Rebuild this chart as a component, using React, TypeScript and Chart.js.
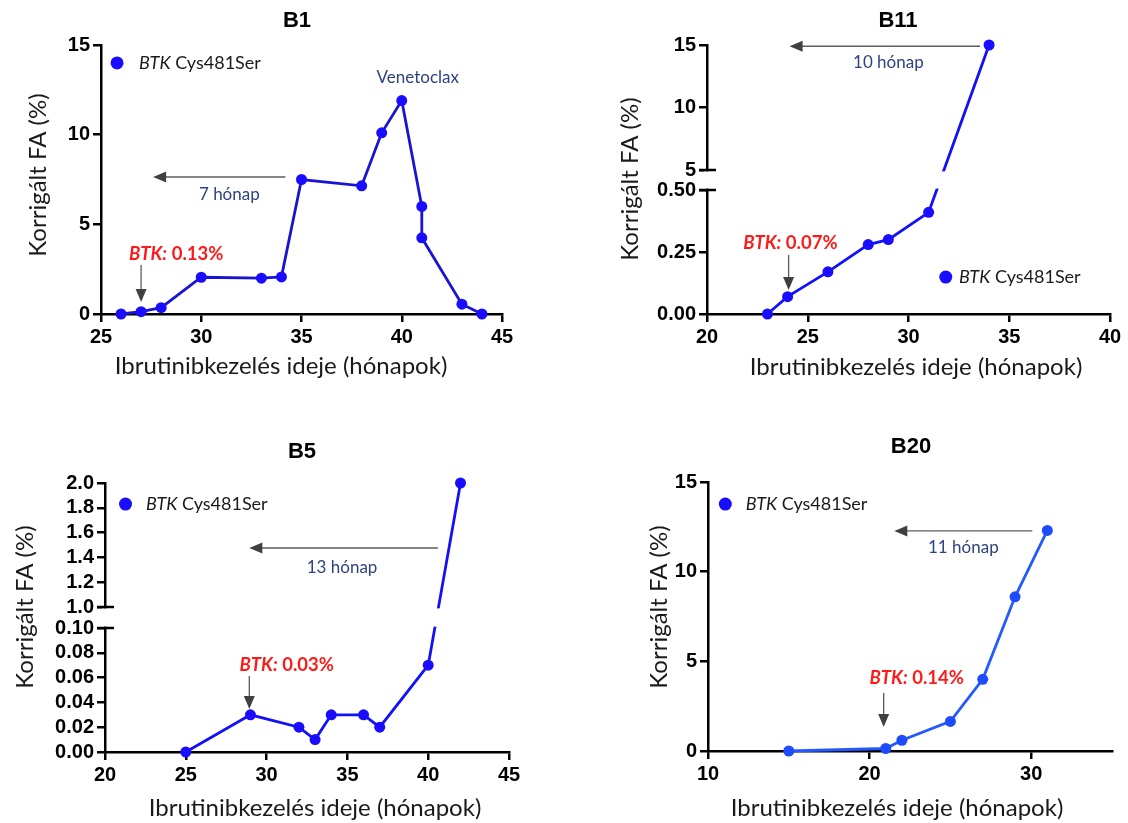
import React, { useEffect, useRef } from "react";
import { Chart, registerables, LinearScale } from "chart.js";

Chart.register(...registerables);

// ---------------- DATA ----------------
const B1_MONTHS = [26, 27, 28, 30, 33, 34, 35, 38, 39, 40, 41, 41, 43, 44];
const B1_FA = [0, 0.13, 0.35, 2.05, 2.0, 2.07, 7.5, 7.15, 10.1, 11.9, 6.0, 4.25, 0.55, 0.0];
const B1_X_TICKS = [25, 30, 35, 40, 45];
const B1_Y_TICKS = [0, 5, 10, 15];
const B1_Y_LABELS = ["0", "5", "10", "15"];

const B11_MONTHS = [23, 24, 26, 28, 29, 31, 34];
const B11_FA = [0, 0.07, 0.17, 0.28, 0.3, 0.41, 15];
const B11_X_TICKS = [20, 25, 30, 35, 40];
const B11_Y_TICKS = [0, 0.25, 0.5, 5, 10, 15];
const B11_Y_LABELS = ["0.00", "0.25", "0.50", "5", "10", "15"];

const B5_MONTHS = [25, 29, 32, 33, 34, 36, 37, 40, 42];
const B5_FA = [0, 0.03, 0.02, 0.01, 0.03, 0.03, 0.02, 0.07, 2.0];
const B5_X_TICKS = [20, 25, 30, 35, 40, 45];
const B5_Y_TICKS = [0, 0.02, 0.04, 0.06, 0.08, 0.1, 1.0, 1.2, 1.4, 1.6, 1.8, 2.0];
const B5_Y_LABELS = ["0.00", "0.02", "0.04", "0.06", "0.08", "0.10", "1.0", "1.2", "1.4", "1.6", "1.8", "2.0"];

const B20_MONTHS = [15, 21, 22, 25, 27, 29, 31];
const B20_FA = [0, 0.14, 0.6, 1.65, 4.0, 8.6, 12.3];
const B20_X_TICKS = [10, 20, 30];
const B20_Y_TICKS = [0, 5, 10, 15];
const B20_Y_LABELS = ["0", "5", "10", "15"];

const X_TITLE = "Ibrutinibkezelés ideje (hónapok)";
const Y_TITLE = "Korrigált FA (%)";
const LEGEND_GENE = "BTK";
const LEGEND_REST = " Cys481Ser";

// ---------------- STYLE ----------------
const TICK_FAMILY = '"Liberation Sans Narrow", "Liberation Sans", Arial, sans-serif';
const TITLE_FONT = 'bold 22px "Liberation Sans", Arial, sans-serif';
const AXIS_TITLE_FONT = '24px Lato, "Open Sans", sans-serif';
const LEGEND_FONT = '18px Lato, "Open Sans", sans-serif';
const LEGEND_FONT_I = 'italic 18px Lato, "Open Sans", sans-serif';
const RED_FONT_I = 'italic bold 18.5px Lato, "Open Sans", sans-serif';
const RED_FONT = 'bold 18.5px Lato, "Open Sans", sans-serif';
const NOTE_FONT = '17px Lato, "Open Sans", sans-serif';
const NOTE_COLOR = "#2f4380";
const RED = "#ff1a1a";
const LEGEND_DOT = "#1a0dff";

// ---------------- BROKEN SCALE ----------------
class BrokenLinearScale extends LinearScale {
  static id = "brokenLinear";
  getPixelForValue(value: number) {
    const o: any = this.options;
    const br = o.brk;
    if (!br) return super.getPixelForValue(value);
    const top = this.top;
    const bottom = this.bottom;
    const H = bottom - top;
    const yLowTop = bottom - H * br.lowerFrac;
    const yUpBot = top + H * br.upperFrac;
    const min = this.min;
    const max = this.max;
    if (value <= br.lowerMax) return bottom - ((value - min) / (br.lowerMax - min)) * (bottom - yLowTop);
    if (value >= br.upperMin) return yUpBot - ((value - br.upperMin) / (max - br.upperMin)) * (yUpBot - top);
    return yLowTop - ((value - br.lowerMax) / (br.upperMin - br.lowerMax)) * (yLowTop - yUpBot);
  }
  getValueForPixel(pixel: number) {
    const o: any = this.options;
    const br = o.brk;
    if (!br) return super.getValueForPixel(pixel);
    const top = this.top;
    const bottom = this.bottom;
    const H = bottom - top;
    const yLowTop = bottom - H * br.lowerFrac;
    const yUpBot = top + H * br.upperFrac;
    if (pixel >= yLowTop) return this.min + ((bottom - pixel) / (bottom - yLowTop)) * (br.lowerMax - this.min);
    if (pixel <= yUpBot) return br.upperMin + ((yUpBot - pixel) / (yUpBot - top)) * (this.max - br.upperMin);
    return br.lowerMax + ((yLowTop - pixel) / (yLowTop - yUpBot)) * (br.upperMin - br.lowerMax);
  }
}
Chart.register(BrokenLinearScale as any);

// ---------------- PANEL CONFIG ----------------
type Part = [string, string, string];
interface PanelCfg {
  key: string;
  title: string;
  left: number;
  top: number;
  w: number;
  h: number;
  area: { left: number; right: number; top: number; bottom: number };
  months: number[];
  fa: number[];
  xMin: number;
  xMax: number;
  xTicks: number[];
  yMin: number;
  yMax: number;
  yTicks: number[];
  yLabels: string[];
  brk?: { lowerMax: number; upperMin: number; lowerFrac: number; upperFrac: number };
  lineColor: string;
  pointColor: string;
  titlePos: [number, number];
  yTitlePos: [number, number];
  xTitlePos: [number, number];
  legend: { dot: [number, number]; textX: number };
  note?: { text: string; at: [number, number] };
  hArrow: { y: number; from: number; to: number };
  hText: { text: string; at: [number, number] };
  red: { value: string; at: [number, number] };
  down: { x: number; from: number; to: number };
}

const PANELS: PanelCfg[] = [
  {
    key: "B1",
    title: "B1",
    left: 0,
    top: 0,
    w: 564,
    h: 400,
    area: { left: 101, right: 502, top: 45, bottom: 314 },
    months: B1_MONTHS,
    fa: B1_FA,
    xMin: 25,
    xMax: 45,
    xTicks: B1_X_TICKS,
    yMin: 0,
    yMax: 15,
    yTicks: B1_Y_TICKS,
    yLabels: B1_Y_LABELS,
    lineColor: "#1a14d0",
    pointColor: "#1a0dff",
    titlePos: [297, 21],
    yTitlePos: [38, 175],
    xTitlePos: [281, 366],
    legend: { dot: [25.8, 14.0], textX: 26.9 },
    note: { text: "Venetoclax", at: [40.8, 13.2] },
    hArrow: { y: 7.64, from: 34.2, to: 27.6 },
    hText: { text: "7 hónap", at: [31.4, 6.64] },
    red: { value: " 0.13%", at: [26.4, 3.35] },
    down: { x: 27, from: 2.73, to: 0.67 },
  },
  {
    key: "B11",
    title: "B11",
    left: 564,
    top: 0,
    w: 564,
    h: 400,
    area: { left: 143, right: 546, top: 45, bottom: 314 },
    months: B11_MONTHS,
    fa: B11_FA,
    xMin: 20,
    xMax: 40,
    xTicks: B11_X_TICKS,
    yMin: 0,
    yMax: 15,
    yTicks: B11_Y_TICKS,
    yLabels: B11_Y_LABELS,
    brk: { lowerMax: 0.5, upperMin: 5, lowerFrac: 124 / 269, upperFrac: 125 / 269 },
    lineColor: "#1212f5",
    pointColor: "#1a0dff",
    titlePos: [334, 21],
    yTitlePos: [66, 179],
    xTitlePos: [352, 367],
    legend: { dot: [31.85, 0.149], textX: 32.5 },
    hArrow: { y: 14.9, from: 33.55, to: 24.1 },
    hText: { text: "10 hónap", at: [29.0, 13.56] },
    red: { value: " 0.07%", at: [21.8, 0.286] },
    down: { x: 24.05, from: 0.238, to: 0.097 },
  },
  {
    key: "B5",
    title: "B5",
    left: 0,
    top: 400,
    w: 564,
    h: 423,
    area: { left: 105, right: 509, top: 83, bottom: 352 },
    months: B5_MONTHS,
    fa: B5_FA,
    xMin: 20,
    xMax: 45,
    xTicks: B5_X_TICKS,
    yMin: 0,
    yMax: 2,
    yTicks: B5_Y_TICKS,
    yLabels: B5_Y_LABELS,
    brk: { lowerMax: 0.1, upperMin: 1.0, lowerFrac: 124 / 269, upperFrac: 124 / 269 },
    lineColor: "#1212f5",
    pointColor: "#1a0dff",
    titlePos: [302, 52],
    yTitlePos: [25, 207],
    xTitlePos: [315, 408],
    legend: { dot: [21.27, 1.83], textX: 22.53 },
    hArrow: { y: 1.476, from: 40.6, to: 28.93 },
    hText: { text: "13 hónap", at: [34.67, 1.32] },
    red: { value: " 0.03%", at: [28.33, 0.0702] },
    down: { x: 28.93, from: 0.0613, to: 0.0347 },
  },
  {
    key: "B20",
    title: "B20",
    left: 564,
    top: 400,
    w: 564,
    h: 423,
    area: { left: 144, right: 548, top: 82, bottom: 351 },
    months: B20_MONTHS,
    fa: B20_FA,
    xMin: 10,
    xMax: 35,
    xTicks: B20_X_TICKS,
    yMin: 0,
    yMax: 15,
    yTicks: B20_Y_TICKS,
    yLabels: B20_Y_LABELS,
    lineColor: "#2459ff",
    pointColor: "#1f4cfa",
    titlePos: [347, 47],
    yTitlePos: [95, 207],
    xTitlePos: [333, 408],
    legend: { dot: [11.07, 13.77], textX: 12.33 },
    hArrow: { y: 12.27, from: 30.07, to: 21.53 },
    hText: { text: "11 hónap", at: [25.8, 11.32] },
    red: { value: " 0.14%", at: [20.0, 4.07] },
    down: { x: 20.87, from: 3.23, to: 1.34 },
  },
];

// ---------------- DRAW HELPERS ----------------
function rich(ctx: CanvasRenderingContext2D, parts: Part[], x: number, y: number, align: "left" | "center") {
  ctx.save();
  ctx.textBaseline = "middle";
  ctx.textAlign = "left";
  let total = 0;
  for (const [t, f] of parts) {
    ctx.font = f;
    total += ctx.measureText(t).width;
  }
  let cx = align === "center" ? x - total / 2 : x;
  for (const [t, f, c] of parts) {
    ctx.font = f;
    ctx.fillStyle = c;
    ctx.fillText(t, cx, y);
    cx += ctx.measureText(t).width;
  }
  ctx.restore();
}

function hArrow(ctx: CanvasRenderingContext2D, xFrom: number, xTo: number, y: number) {
  const head = 13;
  ctx.save();
  ctx.strokeStyle = "#5c5c5c";
  ctx.fillStyle = "#404040";
  ctx.lineWidth = 1.3;
  ctx.beginPath();
  ctx.moveTo(xFrom, y);
  ctx.lineTo(xTo + head - 1, y);
  ctx.stroke();
  ctx.beginPath();
  ctx.moveTo(xTo, y);
  ctx.lineTo(xTo + head, y - 5.5);
  ctx.lineTo(xTo + head, y + 5.5);
  ctx.closePath();
  ctx.fill();
  ctx.restore();
}

function vArrow(ctx: CanvasRenderingContext2D, x: number, yFrom: number, yTo: number) {
  const head = 13;
  ctx.save();
  ctx.strokeStyle = "#5c5c5c";
  ctx.fillStyle = "#404040";
  ctx.lineWidth = 1.3;
  ctx.beginPath();
  ctx.moveTo(x, yFrom);
  ctx.lineTo(x, yTo - head + 1);
  ctx.stroke();
  ctx.beginPath();
  ctx.moveTo(x, yTo);
  ctx.lineTo(x - 5.5, yTo - head);
  ctx.lineTo(x + 5.5, yTo - head);
  ctx.closePath();
  ctx.fill();
  ctx.restore();
}

function makePlugin(cfg: PanelCfg) {
  return {
    id: "deco" + cfg.key,
    afterDatasetsDraw(chart: any) {
      if (!cfg.brk) return;
      const ctx: CanvasRenderingContext2D = chart.ctx;
      const ys = chart.scales.y;
      const ax = chart.chartArea.left;
      const yLow = ys.getPixelForValue(cfg.brk.lowerMax);
      const yUp = ys.getPixelForValue(cfg.brk.upperMin);
      ctx.save();
      ctx.fillStyle = "#ffffff";
      ctx.fillRect(ax - 3, yUp + 1.4, chart.chartArea.right - ax + 20, yLow - yUp - 2.8);
      ctx.strokeStyle = "#000";
      ctx.lineWidth = 2.5;
      ctx.beginPath();
      ctx.moveTo(ax - 8, yUp);
      ctx.lineTo(ax + 9, yUp);
      ctx.moveTo(ax - 8, yLow);
      ctx.lineTo(ax + 9, yLow);
      ctx.stroke();
      ctx.restore();
    },
    afterDraw(chart: any) {
      const ctx: CanvasRenderingContext2D = chart.ctx;
      const xs = chart.scales.x;
      const ys = chart.scales.y;
      const X = (v: number) => xs.getPixelForValue(v);
      const Y = (v: number) => ys.getPixelForValue(v);

      // panel title
      ctx.save();
      ctx.font = TITLE_FONT;
      ctx.fillStyle = "#000";
      ctx.textAlign = "center";
      ctx.textBaseline = "middle";
      ctx.fillText(cfg.title, cfg.titlePos[0], cfg.titlePos[1]);
      // axis titles
      ctx.font = AXIS_TITLE_FONT;
      ctx.fillStyle = "#1a1a1a";
      ctx.fillText(X_TITLE, cfg.xTitlePos[0], cfg.xTitlePos[1]);
      ctx.translate(cfg.yTitlePos[0], cfg.yTitlePos[1]);
      ctx.rotate(-Math.PI / 2);
      ctx.fillText(Y_TITLE, 0, 0);
      ctx.restore();

      // legend
      ctx.save();
      ctx.fillStyle = LEGEND_DOT;
      ctx.beginPath();
      ctx.arc(X(cfg.legend.dot[0]), Y(cfg.legend.dot[1]), 6.5, 0, Math.PI * 2);
      ctx.fill();
      ctx.restore();
      rich(
        ctx,
        [
          [LEGEND_GENE, LEGEND_FONT_I, "#1a1a1a"],
          [LEGEND_REST, LEGEND_FONT, "#1a1a1a"],
        ],
        X(cfg.legend.textX),
        Y(cfg.legend.dot[1]),
        "left"
      );

      if (cfg.note) {
        rich(ctx, [[cfg.note.text, NOTE_FONT, NOTE_COLOR]], X(cfg.note.at[0]), Y(cfg.note.at[1]), "center");
      }

      hArrow(ctx, X(cfg.hArrow.from), X(cfg.hArrow.to), Y(cfg.hArrow.y));
      rich(ctx, [[cfg.hText.text, NOTE_FONT, NOTE_COLOR]], X(cfg.hText.at[0]), Y(cfg.hText.at[1]), "center");

      rich(
        ctx,
        [
          ["BTK:", RED_FONT_I, RED],
          [cfg.red.value, RED_FONT, RED],
        ],
        X(cfg.red.at[0]),
        Y(cfg.red.at[1]),
        "left"
      );
      vArrow(ctx, X(cfg.down.x), Y(cfg.down.from), Y(cfg.down.to));
    },
  };
}

function buildConfig(cfg: PanelCfg): any {
  const tickFont = { family: TICK_FAMILY, size: 20, weight: "bold" as const };
  return {
    type: "line",
    data: {
      datasets: [
        {
          data: cfg.months.map((m, i) => ({ x: m, y: cfg.fa[i] })),
          borderColor: cfg.lineColor,
          backgroundColor: cfg.pointColor,
          pointBackgroundColor: cfg.pointColor,
          pointBorderColor: cfg.pointColor,
          pointRadius: 5.5,
          pointBorderWidth: 0,
          borderWidth: 2.8,
          tension: 0,
          clip: false,
        },
      ],
    },
    options: {
      responsive: false,
      animation: false,
      events: [],
      layout: {
        padding: { left: 0, top: cfg.area.top, right: cfg.w - cfg.area.right, bottom: 0 },
      },
      plugins: {
        legend: { display: false },
        tooltip: { enabled: false },
        title: { display: false },
      },
      scales: {
        x: {
          type: "linear",
          min: cfg.xMin,
          max: cfg.xMax,
          afterBuildTicks: (s: any) => {
            s.ticks = cfg.xTicks.map((v) => ({ value: v }));
          },
          afterFit: (s: any) => {
            s.height = cfg.h - cfg.area.bottom;
          },
          grid: { drawOnChartArea: false, tickLength: 8, lineWidth: 2.5, color: "#000" },
          border: { display: true, width: 2.5, color: "#000" },
          ticks: {
            autoSkip: false,
            maxRotation: 0,
            font: tickFont,
            color: "#000",
            padding: 3,
            callback: (v: number) => String(v),
          },
        },
        y: {
          type: cfg.brk ? "brokenLinear" : "linear",
          min: cfg.yMin,
          max: cfg.yMax,
          brk: cfg.brk,
          afterBuildTicks: (s: any) => {
            s.ticks = cfg.yTicks.map((v) => ({ value: v }));
          },
          afterFit: (s: any) => {
            s.width = cfg.area.left;
          },
          grid: { drawOnChartArea: false, tickLength: 8, lineWidth: 2.5, color: "#000" },
          border: { display: true, width: 2.5, color: "#000" },
          ticks: {
            autoSkip: false,
            font: tickFont,
            color: "#000",
            padding: 3,
            callback: (_v: number, i: number) => cfg.yLabels[i],
          },
        },
      },
    },
    plugins: [makePlugin(cfg)],
  };
}

function Panel({ cfg }: { cfg: PanelCfg }) {
  const ref = useRef<HTMLCanvasElement>(null);
  useEffect(() => {
    if (!ref.current) return;
    const chart = new Chart(ref.current, buildConfig(cfg));
    return () => chart.destroy();
  }, [cfg]);
  return (
    <canvas
      ref={ref}
      width={cfg.w}
      height={cfg.h}
      style={{ position: "absolute", left: cfg.left, top: cfg.top, width: cfg.w, height: cfg.h }}
    />
  );
}

export default function App() {
  return (
    <div style={{ position: "absolute", left: 0, top: 0, width: 1128, height: 823, background: "#fff" }}>
      {PANELS.map((p) => (
        <Panel key={p.key} cfg={p} />
      ))}
    </div>
  );
}
